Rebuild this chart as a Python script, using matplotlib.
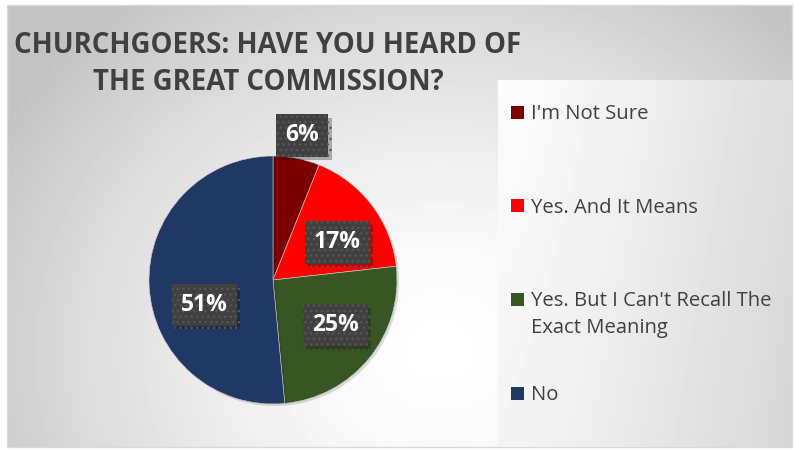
import matplotlib.pyplot as plt
import matplotlib.patheffects as pe
from matplotlib.patches import Rectangle
import numpy as np

plt.rcParams['font.family'] = ['Open Sans', 'DejaVu Sans']
plt.rcParams['hatch.linewidth'] = 1.0

# Data
labels = ["I'm Not Sure", "Yes. And It Means",
          "Yes. But I Can't Recall The\nExact Meaning", "No"]
values = [6, 17, 25, 51]
colors = ['#7b0000', '#ff0000', '#375623', '#1f3864']

# label placement (degrees added to slice mid angle, radius fraction)
label_turn = [0.5, 7, -3, -17]
label_dist = [1.19, 0.6, 0.62, 0.59]

W, H = 794, 451
fig = plt.figure(figsize=(W / 100, H / 100), dpi=100, facecolor='white')

# background axes in pixel coordinates
bg = fig.add_axes([0, 0, 1, 1])
bg.axis('off')

x0, y0, x1, y1 = 7, 5, 792, 447
yy, xx = np.mgrid[y0:y1, x0:x1]
d = np.hypot((xx - 440) / 470.0, (yy - 350) / 420.0)
grad = 1.0 - 0.21 * np.clip(d, 0, 1.08) ** 1.5
bg.imshow(grad, cmap='gray', vmin=0, vmax=1, extent=(x0, x1, y1, y0),
          interpolation='bilinear', zorder=0)
bg.add_patch(Rectangle((x0, y0), x1 - x0, y1 - y0, fill=False,
                       edgecolor='#d9d9d9', linewidth=1, zorder=1))

# legend panel
lx0, ly0 = 498, 80
ly, lx = np.mgrid[ly0:y1, lx0:x1]
lgrad = 0.985 - 0.12 * ((lx - lx0) / (x1 - lx0)) ** 1.3 - 0.03 * ((ly - ly0) / (y1 - ly0))
bg.imshow(lgrad, cmap='gray', vmin=0, vmax=1, extent=(lx0, x1, y1, ly0),
          interpolation='bilinear', zorder=2)
bg.set_xlim(0, W)
bg.set_ylim(H, 0)

# title
bg.text(268, 64, 'CHURCHGOERS: HAVE YOU HEARD OF\nTHE GREAT COMMISSION?',
        ha='center', va='center', fontsize=19.8, fontweight='bold',
        color='#404040', linespacing=1.38, zorder=5)

# pie
cx, cy, r = 273, 280, 124
pax = fig.add_axes([(cx - r) / W, (H - cy - r) / H, 2 * r / W, 2 * r / H])
wedges, _ = pax.pie(values, colors=colors, startangle=90, counterclock=False,
                    wedgeprops=dict(edgecolor='#d0d0d0', linewidth=0.4))
for w in wedges:
    w.set_path_effects([pe.SimplePatchShadow(offset=(1.5, -1.5), alpha=0.15),
                        pe.Normal()])
pax.set_xlim(-1, 1)
pax.set_ylim(-1, 1)
pax.set_aspect('equal')
pax.axis('off')

total = sum(values)
cum = 0
for v, turn, dist in zip(values, label_turn, label_dist):
    mid = (cum + v / 2) / total * 2 * np.pi + np.radians(turn)
    cum += v
    t = pax.text(dist * np.sin(mid), dist * np.cos(mid), f'{v}%',
                 ha='center', va='center', fontsize=16.5, fontweight='bold',
                 color='white', zorder=10,
                 bbox=dict(boxstyle='square,pad=0.4', facecolor='#404040',
                           edgecolor='#565656', linewidth=0, hatch='...'))
    t.set_clip_on(False)
    t.get_bbox_patch().set_path_effects(
        [pe.SimplePatchShadow(offset=(2.5, -2.5), alpha=0.3), pe.Normal()])

# legend (each line on its own baseline, marker beside the first line)
for i, (lab, c) in enumerate(zip(labels, colors)):
    ty = 112 + i * 93.7
    bg.add_patch(Rectangle((511, ty - 6.5), 13, 13, facecolor=c,
                           edgecolor='none', zorder=5))
    for k, line in enumerate(lab.split('\n')):
        bg.text(531, ty + 7 + k * 27, line, ha='left', va='baseline',
                fontsize=14.6, color='#404040', zorder=5)

fig.savefig('out.png', dpi=100, facecolor='white')
